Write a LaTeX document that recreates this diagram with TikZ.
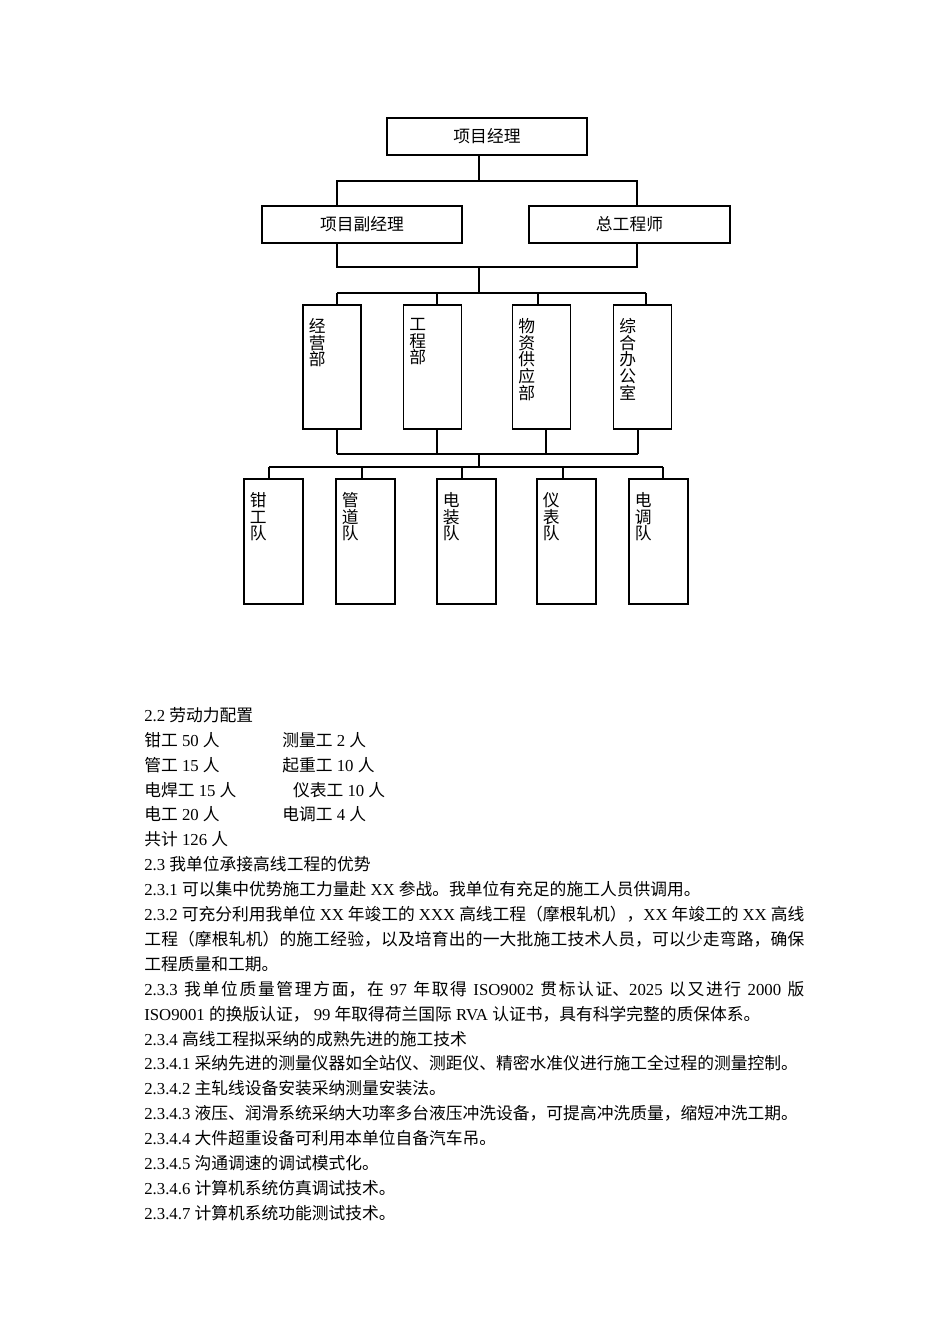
\documentclass[tikz,border=0pt]{standalone}
\usepackage{fontspec}
\setmainfont{Liberation Serif}
\newfontfamily\latinfont{Liberation Serif}
\newfontfamily\cjkfont{Noto Sans CJK SC}
\usetikzlibrary{calc}

% Chinese characters pick their own font
\XeTeXlinebreaklocale "zh"
\XeTeXlinebreakskip=0pt plus 1pt minus 0.1pt
\XeTeXinterchartokenstate=1
\newXeTeXintercharclass\cjkclass
\newcount\cjkcnt
\cjkcnt="3000
\loop\XeTeXcharclass\cjkcnt=\cjkclass\ifnum\cjkcnt<"303F \advance\cjkcnt by 1 \repeat
\cjkcnt="4E00
\loop\XeTeXcharclass\cjkcnt=\cjkclass\ifnum\cjkcnt<"9FFF \advance\cjkcnt by 1 \repeat
\cjkcnt="FF00
\loop\XeTeXcharclass\cjkcnt=\cjkclass\ifnum\cjkcnt<"FFEF \advance\cjkcnt by 1 \repeat
\XeTeXinterchartoks 0 \cjkclass={\cjkfont}
\XeTeXinterchartoks 4095 \cjkclass={\cjkfont}
\XeTeXinterchartoks \cjkclass 0={\latinfont}
\XeTeXinterchartoks \cjkclass 4095={\latinfont}

\newcommand\pxu{0.6266pt}
\tikzset{
  wire/.style={line width=0.7pt},
  hbox/.style={draw,line width=0.7pt,minimum width=200*\pxu,minimum height=37*\pxu,inner sep=0pt,font=\fontsize{10.5}{12}\selectfont},
  vbox/.style={draw,line width=0.7pt,minimum width=58*\pxu,minimum height=124*\pxu,inner sep=0pt},
  vlbl/.style={anchor=north west,inner sep=0pt,align=left,font=\fontsize{10.5}{10.5}\selectfont},
  bodytext/.style={anchor=north west,inner sep=0pt,text width=660*\pxu,align=justify,font=\fontsize{10.5}{15.6}\selectfont},
}

\begin{document}
\begin{tikzpicture}[x=0.6266pt,y=-0.6266pt]
\fill[white] (0,0) rectangle (950,1344);
\useasboundingbox (0,0) rectangle (950,1344);
% top two levels
\node[hbox] (pm) at (487,136.5) {项目经理};
\node[hbox] (dpm) at (362,224.5) {项目副经理};
\node[hbox,minimum width=201*\pxu] (ce) at (629.5,224.5) {总工程师};
% departments
\foreach \n/\x/\lbl in {d1/332/经\\营\\部, d2/432.5/工\\程\\部, d3/541.5/物\\资\\供\\应\\部, d4/642.5/综\\合\\办\\公\\室} {
  \node[vbox] (\n) at (\x,367) {};
  \node[vlbl] (\n-t) at ([shift={(6,13.5)}]\n.north west) {\lbl};
}
% teams
\foreach \n/\x/\lbl in {t1/273.5/钳\\工\\队, t2/365.5/管\\道\\队, t3/466.5/电\\装\\队, t4/566.5/仪\\表\\队, t5/658.5/电\\调\\队} {
  \node[vbox,minimum width=59*\pxu,minimum height=125*\pxu] (\n) at (\x,541.5) {};
  \node[vlbl] (\n-t) at ([shift={(6,13.5)}]\n.north west) {\lbl};
}
% junctions
\coordinate (ja) at (479,181); \coordinate (jal) at (337,181); \coordinate (jar) at (637,181);
\coordinate (jb) at (479,267); \coordinate (jbl) at (337,267); \coordinate (jbr) at (637,267);
\coordinate (jc) at (479,293); \coordinate (jcl) at (337,293); \coordinate (jcr) at (646,293);
\coordinate (jd) at (479,454); \coordinate (jdl) at (337,454); \coordinate (jdr) at (638,454);
\coordinate (je) at (479,467); \coordinate (jel) at (269,467); \coordinate (jer) at (663,467);
\draw[wire] (pm.south -| ja) -- (ja);
\draw[wire] (dpm.north -| jal) -- (jal) -- (jar) -- (ce.north -| jar);
\draw[wire] (dpm.south -| jbl) -- (jbl) -- (jbr) -- (ce.south -| jbr);
\draw[wire] (jb) -- (jc);
\draw[wire] (jcl) -- (jcr);
\foreach \n/\x in {d1/337,d2/437,d3/538,d4/646} {
  \coordinate (up-\n) at (\x,293);
  \draw[wire] (up-\n) -- (up-\n |- \n.north);
}
\foreach \n/\x in {d1/337,d2/437,d3/546,d4/638} {
  \coordinate (dn-\n) at (\x,454);
  \draw[wire] (dn-\n |- \n.south) -- (dn-\n);
}
\draw[wire] (jdl) -- (jdr);
\draw[wire] (jd) -- (je);
\draw[wire] (jel) -- (jer);
\foreach \n/\x in {t1/269,t2/362,t3/462,t4/563,t5/663} {
  \coordinate (up-\n) at (\x,467);
  \draw[wire] (up-\n) -- (up-\n |- \n.north);
}
% text below the chart
\node[bodytext] (body) at (144,707) {%
2.2 劳动力配置\\
\makebox[86.5pt][l]{钳工 50 人}测量工 2 人\\
\makebox[86.5pt][l]{管工 15 人}起重工 10 人\\
\makebox[93.2pt][l]{电焊工 15 人}仪表工 10 人\\
\makebox[86.5pt][l]{电工 20 人}电调工 4 人\\
共计 126 人\\
2.3 我单位承接高线工程的优势\\
2.3.1 可以集中优势施工力量赴 XX 参战。我单位有充足的施工人员供调用。\\
2.3.2 可充分利用我单位 XX 年竣工的 XXX 高线工程（摩根轧机），XX 年竣工的 XX 高线\linebreak 工程（摩根轧机）的施工经验，以及培育出的一大批施工技术人员，可以少走弯路，确保\linebreak 工程质量和工期。\\
2.3.3 我单位质量管理方面，在 97 年取得 ISO9002 贯标认证、2025 以又进行 2000 版\linebreak ISO9001 的换版认证， 99 年取得荷兰国际 RVA 认证书，具有科学完整的质保体系。\\
2.3.4 高线工程拟采纳的成熟先进的施工技术\\
2.3.4.1 采纳先进的测量仪器如全站仪、测距仪、精密水准仪进行施工全过程的测量控制。\\
2.3.4.2 主轧线设备安装采纳测量安装法。\\
2.3.4.3 液压、润滑系统采纳大功率多台液压冲洗设备，可提高冲洗质量，缩短冲洗工期。\\
2.3.4.4 大件超重设备可利用本单位自备汽车吊。\\
2.3.4.5 沟通调速的调试模式化。\\
2.3.4.6 计算机系统仿真调试技术。\\
2.3.4.7 计算机系统功能测试技术。};
\end{tikzpicture}
\end{document}
